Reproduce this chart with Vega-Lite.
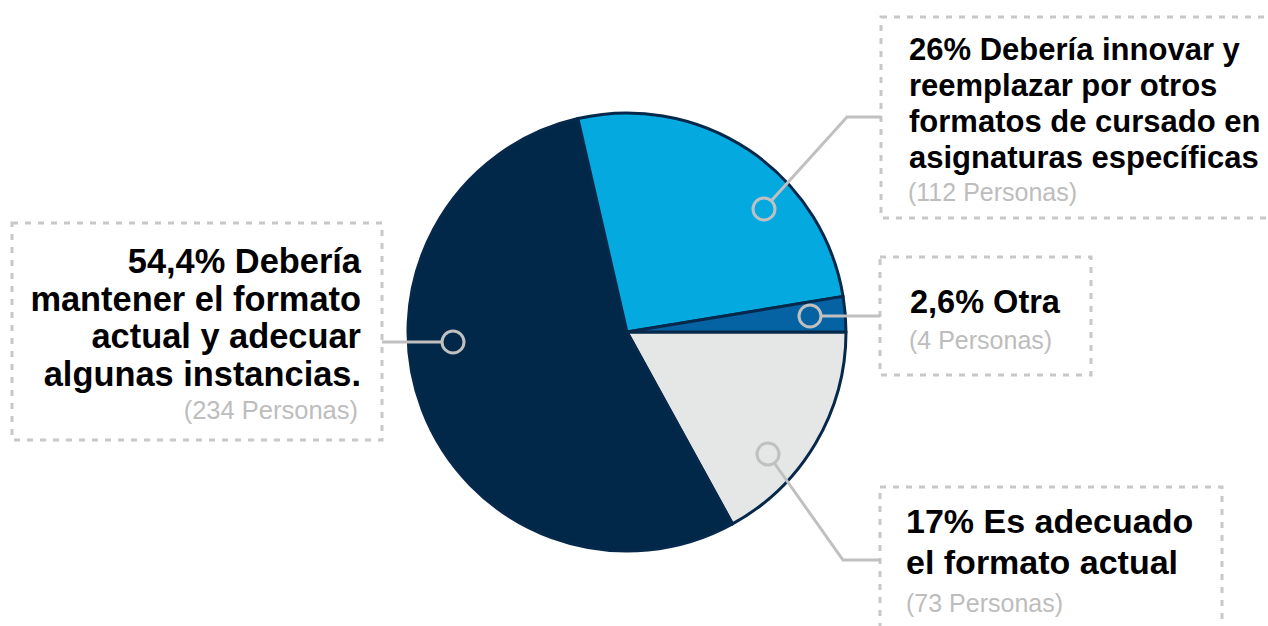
{
  "$schema": "https://vega.github.io/schema/vega-lite/v6.json",
  "width": 1268,
  "height": 626,
  "padding": 0,
  "autosize": {"type": "none"},
  "config": {"view": {"stroke": null}, "font": "Liberation Sans"},
  "datasets": {
    "respuestas": [
      {"respuesta": "Es adecuado el formato actual", "pct": 17, "personas": 73, "orden": 1},
      {"respuesta": "Debería mantener el formato actual y adecuar algunas instancias.", "pct": 54.4, "personas": 234, "orden": 2},
      {"respuesta": "Debería innovar y reemplazar por otros formatos de cursado en asignaturas específicas", "pct": 26, "personas": 112, "orden": 3},
      {"respuesta": "Otra", "pct": 2.6, "personas": 4, "orden": 4}
    ],
    "cajas": [
      {"caja": "sup", "x": 881, "x2": 1285, "y": 17, "y2": 218},
      {"caja": "izq", "x": 12, "x2": 382, "y": 223, "y2": 440},
      {"caja": "med", "x": 880, "x2": 1091, "y": 257, "y2": 375},
      {"caja": "inf", "x": 880, "x2": 1222, "y": 487, "y2": 645}
    ],
    "guias": [
      {"caja": "sup", "paso": 1, "x": 772, "y": 200},
      {"caja": "sup", "paso": 2, "x": 847, "y": 117},
      {"caja": "sup", "paso": 3, "x": 881, "y": 117},
      {"caja": "med", "paso": 1, "x": 822, "y": 316},
      {"caja": "med", "paso": 2, "x": 880, "y": 316},
      {"caja": "izq", "paso": 1, "x": 441, "y": 342},
      {"caja": "izq", "paso": 2, "x": 382, "y": 342},
      {"caja": "inf", "paso": 1, "x": 775, "y": 464},
      {"caja": "inf", "paso": 2, "x": 843, "y": 560},
      {"caja": "inf", "paso": 3, "x": 880, "y": 560}
    ],
    "marcadores": [
      {"caja": "sup", "x": 764, "y": 209},
      {"caja": "med", "x": 810, "y": 316},
      {"caja": "izq", "x": 453, "y": 342},
      {"caja": "inf", "x": 768, "y": 454}
    ],
    "lineas": [
      {"caja": "sup", "tipo": "titulo", "x": 909, "y": 60, "t": "26% Debería innovar y"},
      {"caja": "sup", "tipo": "titulo", "x": 909, "y": 96, "t": "reemplazar por otros"},
      {"caja": "sup", "tipo": "titulo", "x": 909, "y": 132, "t": "formatos de cursado en"},
      {"caja": "sup", "tipo": "titulo", "x": 909, "y": 168, "t": "asignaturas específicas"},
      {"caja": "sup", "tipo": "personas", "x": 908, "y": 201, "t": "(112 Personas)"},
      {"caja": "izq", "tipo": "titulo", "x": 361, "y": 273, "t": "54,4% Debería"},
      {"caja": "izq", "tipo": "titulo", "x": 361, "y": 311, "t": "mantener el formato"},
      {"caja": "izq", "tipo": "titulo", "x": 361, "y": 348, "t": "actual y adecuar"},
      {"caja": "izq", "tipo": "titulo", "x": 361, "y": 386, "t": "algunas instancias."},
      {"caja": "izq", "tipo": "personas", "x": 358, "y": 419, "t": "(234 Personas)"},
      {"caja": "med", "tipo": "titulo", "x": 910, "y": 313, "t": "2,6% Otra"},
      {"caja": "med", "tipo": "personas", "x": 909, "y": 349, "t": "(4 Personas)"},
      {"caja": "inf", "tipo": "titulo", "x": 906, "y": 533, "t": "17% Es adecuado"},
      {"caja": "inf", "tipo": "titulo", "x": 906, "y": 574, "t": "el formato actual"},
      {"caja": "inf", "tipo": "personas", "x": 906, "y": 612, "t": "(73 Personas)"}
    ]
  },
  "encoding": {
    "x": {"type": "quantitative", "scale": {"domain": [0, 1268], "nice": false, "zero": false}, "axis": null},
    "y": {"type": "quantitative", "scale": {"domain": [0, 626], "nice": false, "zero": false, "reverse": true}, "axis": null}
  },
  "layer": [
    {
      "data": {"name": "respuestas"},
      "mark": {"type": "arc", "radius": 219, "stroke": "#06294b", "strokeWidth": 3, "strokeJoin": "round"},
      "encoding": {
        "x": {"datum": 627, "type": "quantitative"},
        "y": {"datum": 332, "type": "quantitative"},
        "theta": {"field": "pct", "type": "quantitative", "stack": true, "scale": {"range": [1.5707963, 7.8539816]}},
        "order": {"field": "orden", "type": "quantitative"},
        "color": {
          "field": "respuesta",
          "type": "nominal",
          "legend": null,
          "scale": {
            "domain": [
              "Es adecuado el formato actual",
              "Debería mantener el formato actual y adecuar algunas instancias.",
              "Debería innovar y reemplazar por otros formatos de cursado en asignaturas específicas",
              "Otra"
            ],
            "range": ["#e5e7e6", "#022849", "#04a9e0", "#0563a3"]
          }
        }
      }
    },
    {
      "data": {"name": "cajas"},
      "mark": {"type": "rect", "fillOpacity": 0, "stroke": "#c8c8c8", "strokeWidth": 3, "strokeDash": [6, 7]},
      "encoding": {
        "x": {"field": "x", "type": "quantitative"},
        "x2": {"field": "x2"},
        "y": {"field": "y", "type": "quantitative"},
        "y2": {"field": "y2"}
      }
    },
    {
      "data": {"name": "guias"},
      "mark": {"type": "line", "color": "#c0c0c0", "strokeWidth": 3},
      "encoding": {
        "x": {"field": "x", "type": "quantitative"},
        "y": {"field": "y", "type": "quantitative"},
        "detail": {"field": "caja", "type": "nominal"},
        "order": {"field": "paso", "type": "quantitative"}
      }
    },
    {
      "data": {"name": "marcadores"},
      "mark": {"type": "point", "shape": "circle", "size": 484, "filled": false, "color": "#c0c0c0", "strokeWidth": 3, "opacity": 1},
      "encoding": {
        "x": {"field": "x", "type": "quantitative"},
        "y": {"field": "y", "type": "quantitative"}
      }
    },
    {
      "data": {"name": "lineas"},
      "transform": [{"filter": "datum.caja == 'sup' && datum.tipo == 'titulo'"}],
      "mark": {"type": "text", "align": "left", "baseline": "alphabetic", "fontSize": 31, "fontWeight": "bold", "font": "Liberation Sans", "color": "#000000"},
      "encoding": {
        "x": {"field": "x", "type": "quantitative"},
        "y": {"field": "y", "type": "quantitative"},
        "text": {"field": "t", "type": "nominal"}
      }
    },
    {
      "data": {"name": "lineas"},
      "transform": [{"filter": "datum.caja == 'med' && datum.tipo == 'titulo'"}],
      "mark": {"type": "text", "align": "left", "baseline": "alphabetic", "fontSize": 32.5, "fontWeight": "bold", "font": "Liberation Sans", "color": "#000000"},
      "encoding": {
        "x": {"field": "x", "type": "quantitative"},
        "y": {"field": "y", "type": "quantitative"},
        "text": {"field": "t", "type": "nominal"}
      }
    },
    {
      "data": {"name": "lineas"},
      "transform": [{"filter": "datum.caja == 'inf' && datum.tipo == 'titulo'"}],
      "mark": {"type": "text", "align": "left", "baseline": "alphabetic", "fontSize": 34, "fontWeight": "bold", "font": "Liberation Sans", "color": "#000000"},
      "encoding": {
        "x": {"field": "x", "type": "quantitative"},
        "y": {"field": "y", "type": "quantitative"},
        "text": {"field": "t", "type": "nominal"}
      }
    },
    {
      "data": {"name": "lineas"},
      "transform": [{"filter": "datum.caja == 'izq' && datum.tipo == 'titulo'"}],
      "mark": {"type": "text", "align": "right", "baseline": "alphabetic", "fontSize": 34.4, "fontWeight": "bold", "font": "Liberation Sans", "color": "#000000"},
      "encoding": {
        "x": {"field": "x", "type": "quantitative"},
        "y": {"field": "y", "type": "quantitative"},
        "text": {"field": "t", "type": "nominal"}
      }
    },
    {
      "data": {"name": "lineas"},
      "transform": [{"filter": "datum.caja != 'izq' && datum.tipo == 'personas'"}],
      "mark": {"type": "text", "align": "left", "baseline": "alphabetic", "fontSize": 25, "font": "Liberation Sans", "color": "#bdbdbd"},
      "encoding": {
        "x": {"field": "x", "type": "quantitative"},
        "y": {"field": "y", "type": "quantitative"},
        "text": {"field": "t", "type": "nominal"}
      }
    },
    {
      "data": {"name": "lineas"},
      "transform": [{"filter": "datum.caja == 'izq' && datum.tipo == 'personas'"}],
      "mark": {"type": "text", "align": "right", "baseline": "alphabetic", "fontSize": 25.5, "font": "Liberation Sans", "color": "#bdbdbd"},
      "encoding": {
        "x": {"field": "x", "type": "quantitative"},
        "y": {"field": "y", "type": "quantitative"},
        "text": {"field": "t", "type": "nominal"}
      }
    }
  ]
}
